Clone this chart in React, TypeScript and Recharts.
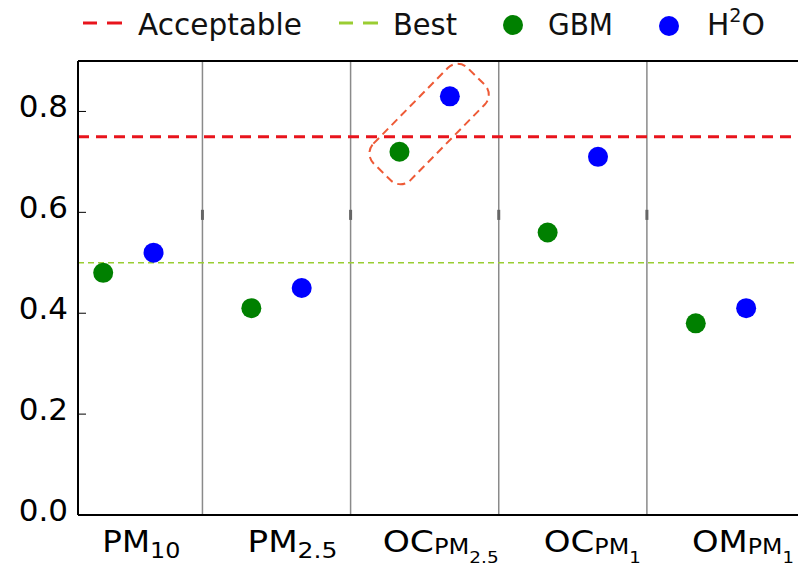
import { ScatterChart, Scatter, XAxis, YAxis, ReferenceLine, ReferenceDot } from "recharts";

const categories = ["PM10", "PM2.5", "OC_PM2.5", "OC_PM1", "OM_PM1"];
const gbmValues = [0.48, 0.41, 0.72, 0.56, 0.38];
const h2oValues = [0.52, 0.45, 0.83, 0.71, 0.41];
const acceptableLevel = 0.75;
const bestLevel = 0.5;
const yTicks = [0, 0.2, 0.4, 0.6, 0.8];
const xTicks = [0, 1, 2, 3, 4];
const separators = [0.5, 1.5, 2.5, 3.5];
const pairOffset = 0.17;
// highlighted pair (OC_PM2.5), box centre in data units
const highlightX = 2.03;
const highlightY = 0.775;

// label pieces: main text, subscript, sub-subscript
const tickMain = ["PM", "PM", "OC", "OC", "OM"];
const tickSub = ["10", "2.5", "PM", "PM", "PM"];
const tickSubSub = ["", "", "2.5", "1", "1"];
// horizontal placement / width of each label (matches the mathtext look)
const tickStart = [-26, -29, -42, -29, -29];
const tickWidth = [78, 90, 116, 97, 102];

const FONT = "DejaVu Sans";

const gbmData = gbmValues.map((v, i) => ({ x: i - pairOffset, y: v, name: categories[i] }));
const h2oData = h2oValues.map((v, i) => ({ x: i + pairOffset, y: v, name: categories[i] }));

const XTick = (props: any) => {
  const { x, y, payload } = props;
  const i = Math.round(payload.value);
  const hasSubSub = tickSubSub[i] !== "";
  return (
    <text
      x={x + tickStart[i]}
      y={y + 37}
      fontFamily={FONT}
      fontSize={30}
      fill="#000"
      textLength={tickWidth[i]}
      lengthAdjust="spacingAndGlyphs"
    >
      {tickMain[i]}
      <tspan fontSize={hasSubSub ? 21 : 22} dy={hasSubSub ? 2 : 6}>
        {tickSub[i]}
      </tspan>
      {hasSubSub && (
        <tspan fontSize={16} dy={9}>
          {tickSubSub[i]}
        </tspan>
      )}
    </text>
  );
};

const YTick = (props: any) => {
  const { x, y, payload } = props;
  return (
    <g>
      <line x1={x} x2={x + 8} y1={y} y2={y} stroke="#000" strokeWidth={1} />
      <text x={x - 10} y={y + 6} textAnchor="end" fontFamily={FONT} fontSize={31} fill="#000">
        {payload.value.toFixed(1)}
      </text>
    </g>
  );
};

const Dot = (color: string) => (props: any) => (
  <circle cx={props.cx} cy={props.cy} r={10} fill={color} />
);

const HighlightBox = (props: any) => {
  const { cx, cy } = props;
  return (
    <rect
      x={cx - 67}
      y={cy - 26}
      width={134}
      height={52}
      rx={14}
      ry={14}
      fill="none"
      stroke="#ee5a36"
      strokeWidth={2}
      strokeDasharray="8 5"
      transform={`rotate(-45.5 ${cx} ${cy})`}
    />
  );
};

function LegendOverlay() {
  return (
    <svg
      width={798}
      height={46}
      style={{ position: "absolute", left: 0, top: 0 }}
      fontFamily={FONT}
    >
      <line x1={83} x2={97} y1={23} y2={23} stroke="#e8141c" strokeWidth={3} />
      <line x1={107} x2={122} y1={23} y2={23} stroke="#e8141c" strokeWidth={3} />
      <text x={138} y={35} fontSize={31} fill="#111" textLength={164} lengthAdjust="spacingAndGlyphs">
        Acceptable
      </text>
      <line x1={339} x2={353} y1={23} y2={23} stroke="#9acd32" strokeWidth={3} />
      <line x1={363} x2={378} y1={23} y2={23} stroke="#9acd32" strokeWidth={3} />
      <text x={393} y={35} fontSize={31} fill="#111" textLength={64} lengthAdjust="spacingAndGlyphs">
        Best
      </text>
      <circle cx={513} cy={25} r={10} fill="#008000" />
      <text x={548} y={35} fontSize={31} fill="#111" textLength={65} lengthAdjust="spacingAndGlyphs">
        GBM
      </text>
      <circle cx={669} cy={26} r={10} fill="#0000ff" />
      <text x={707} y={35} fontSize={31} fill="#111" textLength={58} lengthAdjust="spacingAndGlyphs">
        H
        <tspan fontSize={20} dy={-13}>2</tspan>
        <tspan dy={13}>O</tspan>
      </text>
    </svg>
  );
}

export default function App() {
  return (
    <div style={{ position: "relative", width: 798, height: 566, background: "#fff" }}>
      <style>{`body{margin:0}`}</style>
      <ScatterChart width={798} height={566} margin={{ top: 61, right: 0, bottom: 0, left: 0 }}>
        <XAxis
          type="number"
          dataKey="x"
          domain={[-0.34, 4.52]}
          ticks={xTicks}
          interval={0}
          allowDataOverflow
          height={51}
          tickSize={0}
          tickMargin={0}
          tickLine={false}
          axisLine={{ stroke: "#000", strokeWidth: 2 }}
          tick={<XTick />}
        />
        <YAxis
          type="number"
          dataKey="y"
          domain={[0, 0.9]}
          ticks={yTicks}
          interval={0}
          allowDataOverflow
          width={78}
          tickSize={0}
          tickMargin={0}
          tickLine={false}
          axisLine={{ stroke: "#000", strokeWidth: 2 }}
          tick={<YTick />}
        />
        {separators.map((s) => (
          <ReferenceLine key={s} x={s} stroke="#8a8a8a" strokeWidth={1.5} />
        ))}
        {separators.map((s) => (
          <ReferenceLine
            key={`m${s}`}
            segment={[{ x: s, y: 0.585 }, { x: s, y: 0.605 }]}
            stroke="#666"
            strokeWidth={3}
          />
        ))}
        <ReferenceLine y={0.9} stroke="#000" strokeWidth={2} ifOverflow="visible" />
        <ReferenceLine y={acceptableLevel} stroke="#e8141c" strokeWidth={3} strokeDasharray="11 7" />
        <ReferenceLine y={bestLevel} stroke="#9acd32" strokeWidth={1.5} strokeDasharray="6 4" />
        <ReferenceDot x={highlightX} y={highlightY} shape={<HighlightBox />} ifOverflow="visible" />
        <Scatter name="GBM" data={gbmData} shape={Dot("#008000")} isAnimationActive={false} />
        <Scatter name="H2O" data={h2oData} shape={Dot("#0000ff")} isAnimationActive={false} />
      </ScatterChart>
      <LegendOverlay />
    </div>
  );
}
